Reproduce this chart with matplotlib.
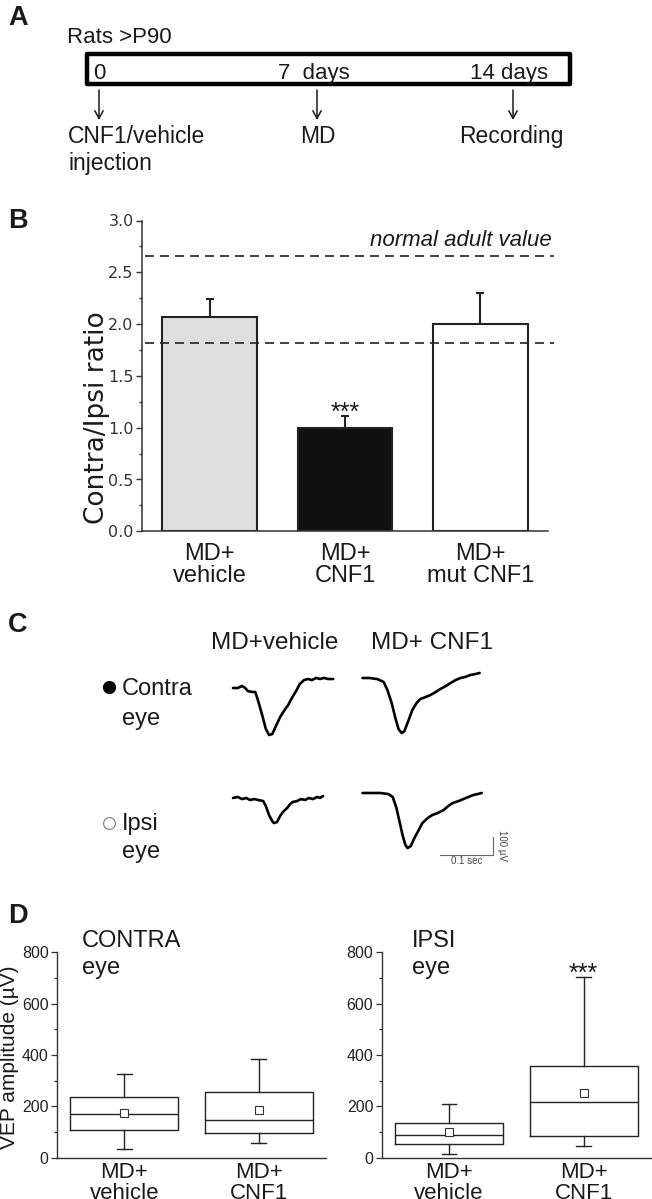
import numpy as np
import matplotlib
matplotlib.use("Agg")
import matplotlib.pyplot as plt
from matplotlib.patches import Rectangle
from matplotlib.ticker import MultipleLocator

plt.rcParams['font.family'] = ['Liberation Sans', 'DejaVu Sans']

W, H = 652, 1199

# ---------------- data ----------------
# A: protocol timeline
timeline_marks = ["0", "7  days", "14 days"]
timeline_events = ["CNF1/vehicle\ninjection", "MD", "Recording"]

# B: contra/ipsi ratio
ratio_groups = ["MD+\nvehicle", "MD+\nCNF1", "MD+\nmut CNF1"]
ratio_mean = [2.07, 1.00, 2.00]
ratio_sem = [0.17, 0.11, 0.30]
ratio_colors = ["#dedede", "#111111", "#ffffff"]
normal_adult = 2.66
lower_line = 1.82

# C: example VEP traces (time in ms, amplitude in uV)
vehicle_contra_t = [0, 9, 17, 23, 28, 36, 42, 47, 55, 62, 68, 74, 81, 89, 96, 104,
                    111, 119, 126, 134, 142, 149, 157, 164, 172, 179, 189]
vehicle_contra_v = [0, 0, 11, 0, -17, -22, -22, -67, -150, -228, -261, -256, -211,
                    -161, -128, -95, -56, -17, 22, 44, 50, 44, 56, 50, 56, 50, 50]
cnf1_contra_t = [0, 13, 28, 40, 47, 55, 62, 68, 74, 79, 87, 94, 102, 109, 119, 128,
                 138, 147, 157, 166, 176, 185, 194, 204, 213, 221]
cnf1_contra_v = [0, 0, -6, -22, -67, -139, -222, -284, -306, -295, -234, -178, -139,
                 -117, -106, -95, -78, -61, -45, -28, -11, 0, 6, 17, 22, 28]
vehicle_ipsi_t = [0, 9, 17, 25, 32, 40, 47, 57, 62, 68, 74, 77, 83, 89, 94, 102,
                  108, 113, 121, 128, 136, 143, 151, 159, 164, 170]
vehicle_ipsi_v = [0, 6, -6, 0, -11, -6, -11, -17, -45, -95, -128, -139, -134, -100,
                  -78, -56, -33, -22, -17, -6, -11, 0, -6, 6, 0, 11]
cnf1_ipsi_t = [0, 15, 34, 49, 57, 64, 70, 76, 81, 85, 91, 98, 106, 113, 123, 132,
               142, 153, 162, 170, 181, 191, 200, 209, 217, 225]
cnf1_ipsi_v = [0, 0, 0, -6, -22, -83, -161, -239, -289, -306, -295, -250, -206,
               -167, -139, -122, -111, -95, -72, -56, -45, -33, -22, -11, -6, 0]

# D: VEP amplitude box plots (uV)
vep_groups = ["MD+\nvehicle", "MD+\nCNF1"]
contra_whislo = [34, 58]
contra_q1 = [108, 97]
contra_med = [169, 147]
contra_q3 = [235, 257]
contra_whishi = [326, 383]
contra_mean = [176, 186]
ipsi_whislo = [14, 47]
ipsi_q1 = [52, 86]
ipsi_med = [88, 218]
ipsi_q3 = [134, 357]
ipsi_whishi = [209, 703]
ipsi_mean = [99, 251]

# ---------------- figure ----------------
fig = plt.figure(figsize=(W / 100, H / 100), dpi=100)


def px_axes(x0, y0, x1, y1):
    return fig.add_axes([x0 / W, 1 - y1 / H, (x1 - x0) / W, (y1 - y0) / H])


# transparent overlay in pixel units for texts and the timeline diagram
canvas = fig.add_axes([0, 0, 1, 1])
canvas.set_xlim(0, W)
canvas.set_ylim(H, 0)
canvas.axis("off")
canvas.patch.set_alpha(0)
canvas.set_zorder(10)

ink = "#1a1a1a"


def put(x, y, s, size=16.5, **kw):
    canvas.text(x, y, s, fontsize=size, color=ink, va="baseline", **kw)


# panel letters
for letter, yb in zip("ABCD", [25, 228, 632, 923]):
    put(8, yb, letter, size=19.5, fontweight="bold")

# ---- A: timeline ----
put(67, 42.7, "Rats >P90", size=16)
canvas.add_patch(Rectangle((87.2, 54.2), 482.6, 29.6, fill=False, lw=3.2,
                           ec="black", joinstyle="round"))
for s, x in zip(timeline_marks, [93, 278, 470]):
    put(x, 79, s, size=16)
for s, x in zip(timeline_events, [99, 317, 513]):
    canvas.annotate("", xy=(x, 120), xytext=(x, 90),
                    arrowprops=dict(arrowstyle="->,head_length=0.55,head_width=0.3",
                                    lw=1.1, color=ink, shrinkA=0, shrinkB=0))
first = timeline_events[0].split("\n")
put(68, 143, first[0])
put(68, 170, first[1])
put(300, 143, timeline_events[1])
put(459, 143, timeline_events[2])

# ---- B: bar chart ----
axb = px_axes(142, 220.5, 548, 531.3)
xb = np.arange(len(ratio_groups))
axb.errorbar(xb, ratio_mean, yerr=[np.zeros(len(xb)), ratio_sem], fmt="none",
             ecolor="#222222", elinewidth=1.5, capsize=3, capthick=1.5, zorder=1)
axb.bar(xb, ratio_mean, width=0.70, color=ratio_colors, edgecolor="#222222",
        linewidth=1.5, zorder=2)
for yv in [normal_adult, lower_line]:
    axb.plot([-0.478, 2.542], [yv, yv], color="#222222", lw=1.2,
             ls=(0, (5.4, 3.6)), clip_on=False, zorder=3)
axb.text(2.53, 2.75, "normal adult value", ha="right", va="baseline",
         fontsize=16, style="italic", color=ink)
axb.text(1, 1.08, "***", ha="center", va="baseline", fontsize=18, color=ink)
axb.set_xlim(-0.5, 2.5)
axb.set_ylim(0, 3.0)
axb.set_yticks(np.arange(0, 3.01, 0.5))
axb.set_yticklabels([f"{v:.1f}" for v in np.arange(0, 3.01, 0.5)],
                    family="DejaVu Sans", fontsize=11.5, color="#333333")
axb.yaxis.set_minor_locator(MultipleLocator(0.25))
axb.set_xticks(xb)
axb.set_xticklabels(ratio_groups, fontsize=17, linespacing=1.0, color=ink)
axb.tick_params(axis="x", length=0, pad=8.2)
axb.tick_params(axis="y", which="major", length=4, width=1.0, color="#333333", pad=2)
axb.tick_params(axis="y", which="minor", length=2.5, width=1.0, color="#333333")
for side in ["top", "right"]:
    axb.spines[side].set_visible(False)
for side in ["left", "bottom"]:
    axb.spines[side].set_linewidth(1.1)
    axb.spines[side].set_color("#333333")
axb.set_ylabel("Contra/Ipsi ratio", family="DejaVu Sans", fontsize=19, color=ink,
               va="center")
axb.yaxis.set_label_coords((97.5 - 142) / (548 - 142), (531.3 - 417.5) / (531.3 - 220.5))

# ---- C: traces ----
put(211, 649, "MD+vehicle", size=17.5)
put(371, 649, "MD+ CNF1", size=17.5)
canvas.plot([109], [687], "o", ms=8.5, color="black")
put(122, 695, "Contra", size=17)
put(122, 725, "eye", size=17)
canvas.plot([109], [823], "o", ms=8.5, mfc="white", mec="#888888", mew=0.9)
put(122, 830, "Ipsi", size=17)
put(122, 858, "eye", size=17)

ms_per_px = 100 / 53
uv_per_px = 100 / 18
axc = px_axes(200, 655, 540, 875)
axc.set_xlim((200 - 233) * ms_per_px, (540 - 233) * ms_per_px)
axc.set_ylim(-(875 - 688) * uv_per_px, -(655 - 688) * uv_per_px)
axc.axis("off")
col_off = (362.5 - 233) * ms_per_px
traces = [
    (vehicle_contra_t, vehicle_contra_v, 0, 0),
    (cnf1_contra_t, cnf1_contra_v, col_off, 10 * uv_per_px),
    (vehicle_ipsi_t, vehicle_ipsi_v, 0, -110 * uv_per_px),
    (cnf1_ipsi_t, cnf1_ipsi_v, col_off, -105 * uv_per_px),
]
for t, v, dx, dy in traces:
    axc.plot(np.array(t) + dx, np.array(v) + dy, color="black", lw=1.9,
             solid_joinstyle="round", solid_capstyle="round")
# scale bar: 0.1 s, 100 uV
sb_t0 = (440 - 233) * ms_per_px
sb_v0 = -(855 - 688) * uv_per_px
axc.plot([sb_t0, sb_t0 + 100, sb_t0 + 100], [sb_v0, sb_v0, sb_v0 + 100],
         color="#666666", lw=0.8)
axc.text(sb_t0 + 50, sb_v0 - 1 * uv_per_px, "0.1 sec", ha="center", va="top",
         fontsize=7, color="#444444")
axc.text(sb_t0 + 100 + 4 * ms_per_px, sb_v0 + 50, "100 \u00b5V", ha="left", va="center",
         rotation=-90, fontsize=7, color="#444444")


# ---- D: box plots ----
def box_panel(ax, whislo, q1, med, q3, whishi, mean):
    stats = []
    for i in range(len(vep_groups)):
        stats.append(dict(whislo=whislo[i], q1=q1[i], med=med[i], q3=q3[i],
                          whishi=whishi[i], mean=mean[i], fliers=[]))
    lp = dict(color="#222222", linewidth=1.0)
    ax.bxp(stats, positions=range(len(vep_groups)), widths=0.8, capwidths=0.11,
           showmeans=True, showfliers=False,
           boxprops=lp, whiskerprops=lp, capprops=lp, medianprops=lp,
           meanprops=dict(marker="s", markerfacecolor="white",
                          markeredgecolor="#333333", markersize=5.5,
                          markeredgewidth=0.8))
    ax.set_xlim(-0.5, 1.5)
    ax.set_ylim(0, 800)
    ax.set_yticks([0, 200, 400, 600, 800])
    ax.yaxis.set_minor_locator(MultipleLocator(100))
    ax.set_xticks(range(len(vep_groups)))
    ax.set_xticklabels(vep_groups, fontsize=16, linespacing=1.0, color=ink)
    ax.tick_params(axis="x", length=0, pad=3.4)
    ax.tick_params(axis="y", which="major", length=4, width=0.9, color="#333333",
                   labelsize=11.5, labelcolor="#222222", pad=2)
    ax.tick_params(axis="y", which="minor", length=2.5, width=0.9, color="#333333")
    ax.patch.set_alpha(0)
    for side in ["top", "right"]:
        ax.spines[side].set_visible(False)
    for side in ["left", "bottom"]:
        ax.spines[side].set_linewidth(1.0)
        ax.spines[side].set_color("#333333")


axd1 = px_axes(57, 952.3, 326, 1157.7)
box_panel(axd1, contra_whislo, contra_q1, contra_med, contra_q3, contra_whishi, contra_mean)
axd1.set_ylabel("VEP amplitude (\u00b5V)", fontsize=15, color=ink, va="center")
axd1.yaxis.set_label_coords((10 - 57) / (326 - 57), (1157.7 - 1057.5) / (1157.7 - 952.3))

axd2 = px_axes(381.7, 952.3, 651, 1157.7)
box_panel(axd2, ipsi_whislo, ipsi_q1, ipsi_med, ipsi_q3, ipsi_whishi, ipsi_mean)
axd2.text(1, 690, "***", ha="center", va="baseline", fontsize=18, color=ink)

put(82, 947, "CONTRA", size=17)
put(82, 974, "eye", size=17)
put(412, 947, "IPSI", size=17)
put(412, 974, "eye", size=17)

fig.savefig("out.png", dpi=100)
